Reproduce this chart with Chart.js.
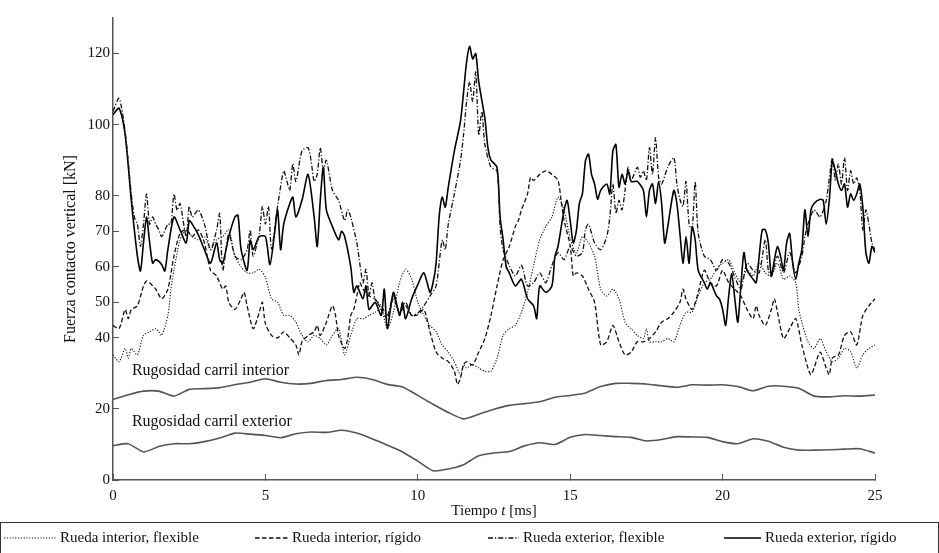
<!DOCTYPE html>
<html><head><meta charset="utf-8">
<script src="https://cdn.jsdelivr.net/npm/chart.js@4/dist/chart.umd.min.js"></script>
<style>html,body{margin:0;padding:0;background:#fff;}#wrap{width:939px;height:553px;}</style>
</head><body><div id="wrap"><canvas id="c" width="939" height="553"></canvas></div>
<script>
const xTicks = [0, 5, 10, 15, 20, 25];
const yTicks = [0, 20, 40, 50, 60, 70, 80, 100, 120];
const seriesLabels = ['Rueda interior, flexible', 'Rueda interior, rígido', 'Rueda exterior, flexible', 'Rueda exterior, rígido'];
const roughLabels = ['Rugosidad carril interior', 'Rugosidad carril exterior'];
const xTitleParts = ['Tiempo ', 't', ' [ms]'];
const yTitle = 'Fuerza contacto vertical [kN]';

// [time ms, force kN]
const interiorFlexible = [[0,35.2],[0.2,33.3],[0.4,37],[0.5,34.3],[0.6,37],[0.8,35.2],[1.0,40.7],[1.2,41.7],[1.4,42.6],[1.5,41.7],[1.6,40.7],[1.8,46.3],[1.9,53.7],[2.0,59],[2.2,67.6],[2.4,70.4],[2.6,68.5],[2.8,67.6],[3.0,68.5],[3.2,64.8],[3.4,67.6],[3.6,68.5],[3.8,70.4],[4.0,63],[4.2,60],[4.4,58.3],[4.6,58.3],[4.8,59.3],[5.0,57],[5.2,51],[5.4,50],[5.6,46.3],[5.8,46.3],[6.0,44.4],[6.2,40.7],[6.4,38.9],[6.6,40.7],[6.8,39.8],[7.0,38],[7.2,40.7],[7.4,42.6],[7.6,35.2],[7.8,40.7],[8.0,45.4],[8.2,45.4],[8.4,46.3],[8.6,47.2],[8.8,48],[9.0,42.6],[9.2,47.2],[9.4,55.5],[9.6,59.3],[9.8,56.5],[10.0,50],[10.2,46.3],[10.4,43.5],[10.6,41.7],[10.8,38],[11.0,36],[11.2,33.3],[11.4,29.6],[11.5,32.4],[11.6,31.5],[11.8,32.4],[12.0,31.5],[12.2,30.6],[12.4,30.6],[12.6,34.3],[12.8,40.7],[13.0,42.6],[13.2,43.5],[13.4,47.2],[13.6,52.8],[13.8,60.4],[14.0,67.6],[14.2,71.3],[14.4,74],[14.6,79.6],[14.8,75.9],[15.0,68],[15.2,63.9],[15.4,68.5],[15.6,66.7],[15.8,63],[16.0,53.7],[16.2,51.8],[16.4,53.7],[16.6,51],[16.8,44.4],[17.0,42.6],[17.2,40.7],[17.4,39.8],[17.5,42.6],[17.6,38.9],[17.8,38.9],[18.0,38.9],[18.2,39.8],[18.4,38.9],[18.6,43.5],[18.8,47.2],[19.0,47.2],[19.2,51.8],[19.4,55.5],[19.6,56.5],[19.8,59.3],[20.0,61],[20.2,62],[20.4,58.3],[20.6,55.5],[20.8,59.3],[21.0,57.4],[21.2,61],[21.4,58.3],[21.6,57.4],[21.8,61],[22.0,56.5],[22.2,57.4],[22.4,55.5],[22.5,48],[22.6,44.4],[22.8,38.9],[23.0,37],[23.2,39.8],[23.4,36.1],[23.6,33.3],[23.8,34.3],[24.0,37],[24.2,36.1],[24.4,31.5],[24.6,35.2],[24.8,37],[25.0,38]];

const interiorRigid = [[0,43.5],[0.2,42.6],[0.4,48],[0.5,45.4],[0.6,48],[0.8,49],[1.0,54.6],[1.1,56],[1.2,55.5],[1.4,53.7],[1.6,51],[1.8,53.7],[2.0,63],[2.2,69.4],[2.4,70.4],[2.6,68.5],[2.8,70.4],[3.0,66.7],[3.2,59],[3.4,57.4],[3.6,53.7],[3.7,54.6],[3.8,50],[4.0,48],[4.2,51],[4.3,52.8],[4.4,49],[4.6,42.6],[4.8,47.2],[4.9,50],[5.0,44],[5.2,40.7],[5.4,40],[5.6,41.7],[5.8,40],[6.0,38],[6.1,35.2],[6.2,38.9],[6.4,40.7],[6.6,41.7],[6.7,43.5],[6.8,40.7],[7.0,44.4],[7.2,49],[7.3,46.3],[7.4,40.7],[7.6,37],[7.7,39.8],[7.8,46.3],[7.9,48],[8.0,51.8],[8.1,55.5],[8.2,53.7],[8.4,51.8],[8.6,50.9],[8.8,48],[9.0,45.4],[9.2,51],[9.4,47.2],[9.6,49],[9.8,46.3],[10.0,46.5],[10.2,48],[10.4,41.7],[10.6,36],[10.8,34.3],[11.0,33.3],[11.2,30.6],[11.3,26.9],[11.4,28.7],[11.5,32.4],[11.6,33.3],[11.8,32.4],[12.0,36],[12.2,39.8],[12.4,46.3],[12.6,54.6],[12.8,62],[13.0,65.7],[13.2,71.3],[13.3,73],[13.4,76],[13.6,80.5],[13.7,85.2],[13.8,84.3],[14.0,86],[14.2,87],[14.4,86],[14.6,84.3],[14.7,78.7],[14.8,73],[15.0,66],[15.1,57.4],[15.2,58.3],[15.4,57.4],[15.6,53.7],[15.8,50],[16.0,38],[16.2,38.9],[16.4,43.5],[16.6,38.9],[16.8,35.2],[17.0,36],[17.2,38.9],[17.4,38.9],[17.6,39.8],[17.8,41.7],[18.0,44.4],[18.2,45.4],[18.4,47.2],[18.6,50],[18.7,53.7],[18.8,50.9],[19.0,48],[19.2,52.8],[19.4,59],[19.6,55.5],[19.8,54.6],[20.0,59],[20.2,55.5],[20.4,53.7],[20.6,51.8],[20.8,48],[21.0,45.4],[21.1,49],[21.2,46.3],[21.4,43.5],[21.6,48],[21.7,51],[21.8,47.2],[22.0,39.8],[22.2,42.6],[22.4,45.4],[22.6,38],[22.8,31.5],[22.9,29.6],[23.0,31.5],[23.2,36],[23.4,31.5],[23.5,29.6],[23.6,34.3],[23.8,35.2],[24.0,40.7],[24.2,41.7],[24.4,38],[24.6,46.3],[24.8,49],[24.9,50],[25.0,51]];

const exteriorFlexible = [[0,103.7],[0.2,107.4],[0.4,98],[0.6,80.5],[0.7,74],[0.8,72],[0.9,65.7],[1.0,72],[1.1,80.5],[1.2,72],[1.3,74],[1.4,72],[1.5,70.4],[1.6,68.5],[1.8,72],[1.9,72],[2.0,80.5],[2.1,75.9],[2.2,77.8],[2.4,68.5],[2.5,77],[2.6,74],[2.8,76],[3.0,72],[3.2,64.8],[3.4,70.4],[3.5,75],[3.6,59],[3.8,69.4],[4.0,63],[4.2,62],[4.4,64.8],[4.5,70.4],[4.6,63],[4.8,69.4],[4.9,77],[5.0,72],[5.1,77],[5.2,65],[5.4,77],[5.6,87],[5.7,84.3],[5.8,81.5],[5.9,89],[6.0,84],[6.2,92.6],[6.4,93.5],[6.5,89.8],[6.6,84],[6.7,86],[6.8,93.5],[6.9,87],[7.0,90],[7.2,81.5],[7.4,78.7],[7.6,73],[7.7,76],[7.8,74],[8.0,66.7],[8.2,55.5],[8.3,59.3],[8.4,51.8],[8.5,55.5],[8.6,50.9],[8.8,49],[9.0,46.3],[9.2,51.8],[9.4,47.2],[9.6,50],[9.8,46.3],[10.0,47],[10.2,49],[10.4,51.8],[10.6,54.6],[10.8,67.6],[10.9,64.8],[11.0,72],[11.2,80.5],[11.4,89.8],[11.5,97],[11.6,106.5],[11.7,112],[11.8,106.5],[11.9,114.8],[12.0,97],[12.1,103.7],[12.2,94.4],[12.4,88],[12.6,87],[12.7,71.3],[12.8,64.8],[13.0,60.4],[13.2,57.4],[13.4,60.4],[13.6,54.6],[13.8,55.5],[14.0,58.3],[14.2,55.5],[14.4,60.4],[14.6,64],[14.8,62],[15.0,65.7],[15.2,63],[15.4,64],[15.5,70.4],[15.6,72],[15.8,66.7],[16.0,64.8],[16.2,68.5],[16.3,74],[16.4,83.3],[16.5,75],[16.6,78.7],[16.7,76],[16.8,81.5],[16.9,88],[17.0,84.3],[17.2,88],[17.3,85.2],[17.4,87],[17.5,84.3],[17.6,93.5],[17.7,86],[17.8,96.3],[17.9,85.2],[18.0,83.3],[18.2,88],[18.4,90.7],[18.5,83.3],[18.6,79],[18.7,77],[18.8,84],[18.9,72],[19.0,70.4],[19.1,84],[19.2,69.4],[19.4,63],[19.6,62],[19.8,59],[20.0,62],[20.2,61],[20.4,57],[20.6,53.7],[20.8,61],[21.0,59],[21.2,58.3],[21.4,67.6],[21.5,59],[21.6,57.4],[21.8,63],[22.0,58.3],[22.2,64],[22.4,58.3],[22.6,63],[22.7,68.5],[22.8,72],[23.0,76],[23.2,74],[23.4,78.7],[23.6,90.7],[23.7,84.3],[23.8,88.9],[23.9,83.3],[24.0,90.7],[24.1,81.5],[24.2,87],[24.3,83.3],[24.4,85],[24.5,81.5],[24.6,70.4],[24.7,76],[24.8,72],[24.9,66.7],[25.0,64.8]];

const exteriorRigid = [[0,102.8],[0.2,104.6],[0.4,97],[0.6,78.7],[0.8,63],[0.9,58.8],[1.0,66.7],[1.1,74],[1.2,67],[1.3,61],[1.4,62],[1.6,60.6],[1.7,58.8],[1.8,64.8],[2.0,74],[2.2,70.4],[2.4,66.7],[2.5,73],[2.6,72],[2.8,69],[3.0,64.8],[3.2,61],[3.4,66.7],[3.5,62],[3.6,61],[3.8,68.5],[4.0,74],[4.1,74.5],[4.2,65],[4.4,59],[4.5,67.5],[4.6,64.8],[4.8,68.5],[5.0,68.5],[5.15,60.6],[5.3,69.4],[5.4,76],[5.5,64.8],[5.6,72],[5.8,77.8],[5.9,79.6],[6.0,74],[6.2,78.7],[6.4,86],[6.6,74],[6.7,65.7],[6.8,78.7],[6.9,88],[7.0,76],[7.2,71.3],[7.4,67.6],[7.5,70],[7.6,68.5],[7.8,60],[7.9,52.8],[8.0,54.6],[8.2,51],[8.3,54.6],[8.4,48],[8.6,50],[8.8,46.3],[8.9,53.7],[9.0,42.6],[9.2,52.8],[9.4,46.3],[9.5,50],[9.6,45.4],[9.8,51],[10.0,55],[10.2,58.3],[10.4,52.8],[10.5,55.5],[10.6,61],[10.7,74],[10.8,79.6],[10.9,76.8],[11.0,82.4],[11.2,92.6],[11.4,101],[11.5,109],[11.6,117.6],[11.7,122],[11.8,118.5],[11.9,120],[12.0,112],[12.2,101.8],[12.3,93.5],[12.4,90],[12.6,88],[12.7,74],[12.8,67.6],[12.9,60],[13.0,58.3],[13.2,54.6],[13.4,56.5],[13.6,51],[13.8,49],[13.9,45.4],[14.0,54.6],[14.2,52.8],[14.4,54.6],[14.5,63],[14.6,65.7],[14.8,76],[14.9,78.7],[15.0,73],[15.1,66.7],[15.2,70],[15.3,77.8],[15.4,80.5],[15.5,89.8],[15.6,91.7],[15.7,86],[15.8,83.3],[15.9,79],[16.0,81.5],[16.2,83.3],[16.3,80.5],[16.4,92.6],[16.5,94.4],[16.6,82.4],[16.7,86],[16.8,83.3],[16.9,87],[17.0,84],[17.2,84],[17.4,81.5],[17.5,74],[17.6,81.5],[17.7,83.3],[17.8,77.8],[17.9,84],[18.0,77.8],[18.1,66.7],[18.2,71.3],[18.4,81.5],[18.5,77.8],[18.6,69.4],[18.7,61],[18.8,68.5],[18.9,61],[19.0,71.3],[19.1,67.6],[19.2,59],[19.4,55.5],[19.5,53.7],[19.6,55.5],[19.8,51.8],[19.9,50.9],[20.0,48],[20.1,43.5],[20.2,51.8],[20.3,58],[20.4,51],[20.5,44.4],[20.6,54.6],[20.7,64],[20.8,59],[21.0,56.5],[21.1,55.5],[21.2,63],[21.3,70.4],[21.4,70.4],[21.5,66.7],[21.6,57.4],[21.7,62],[21.8,65.7],[21.9,63],[22.0,59],[22.1,66.7],[22.2,69.4],[22.3,61],[22.4,56.5],[22.5,61],[22.6,64.8],[22.7,76],[22.8,68.5],[22.9,76],[23.0,77.8],[23.2,79],[23.3,78.7],[23.4,72],[23.5,78.7],[23.6,89.8],[23.7,87],[23.8,83.3],[23.9,81.5],[24.0,83.3],[24.1,76.8],[24.2,80.5],[24.3,78.7],[24.4,80.5],[24.5,83.3],[24.6,76.8],[24.7,64],[24.8,61],[24.9,65.7],[25.0,64]];

const roughTime = [0,0.5,1,1.5,2,2.5,3,3.5,4,4.5,5,5.5,6,6.5,7,7.5,8,8.5,9,9.5,10,10.5,11,11.5,12,12.5,13,13.5,14,14.5,15,15.5,16,16.5,17,17.5,18,18.5,19,19.5,20,20.5,21,21.5,22,22.5,23,23.5,24,24.5,25];
const roughInterior = [22.7,24.0,25.0,25.0,23.6,25.5,25.7,26.0,26.8,27.5,28.5,27.5,27.0,27.2,28.0,28.3,28.9,28.3,26.9,26.2,23.8,21.3,19.0,17.2,18.5,19.9,21.0,21.5,22.0,23.3,23.8,24.5,26.3,27.2,27.2,27.0,26.5,26.1,26.8,26.7,26.8,26.3,25.1,26.4,26.4,25.8,23.6,23.4,23.7,23.6,23.9];
const roughExterior = [9.7,10.2,7.9,9.4,10.2,10.2,10.8,11.8,13.2,12.9,12.5,11.9,13.0,13.5,13.4,14.0,13.2,11.6,9.8,7.9,5.3,2.6,3.1,4.3,6.8,7.6,8.0,9.6,10.5,10.0,12.0,12.8,12.5,12.2,12.0,11.0,11.4,12.2,12.1,12.0,10.8,10.2,11.6,10.9,9.2,8.4,8.4,8.5,8.7,8.8,7.6];

const FONT = 'Liberation Serif, Times New Roman, serif';
const pts = arr => arr.map(([x, y]) => ({x, y}));
const roughPts = vals => vals.map((y, i) => ({x: roughTime[i], y}));

const styles = [
  {borderDash: [1.2, 1.6], borderWidth: 1.1, borderColor: '#111'},
  {borderDash: [4.5, 2.5], borderWidth: 1.3, borderColor: '#111'},
  {borderDash: [5, 2, 1.2, 2], borderWidth: 1.3, borderColor: '#111'},
  {borderDash: [], borderWidth: 1.6, borderColor: '#000'}
];
const mainData = [interiorFlexible, interiorRigid, exteriorFlexible, exteriorRigid];
const datasets = mainData.map((d, i) => Object.assign({
  label: seriesLabels[i], data: pts(d), pointRadius: 0, tension: 0.25, fill: false
}, styles[i]));
datasets.push({label: roughLabels[0], data: roughPts(roughInterior), borderColor: '#555', borderWidth: 1.6, pointRadius: 0, tension: 0.2, fill: false});
datasets.push({label: roughLabels[1], data: roughPts(roughExterior), borderColor: '#555', borderWidth: 1.6, pointRadius: 0, tension: 0.2, fill: false});

const decorPlugin = {
  id: 'decor',
  afterDraw(chart) {
    const ctx = chart.ctx, xs = chart.scales.x, ys = chart.scales.y;
    ctx.save();
    ctx.fillStyle = '#111';
    ctx.textBaseline = 'middle';
    ctx.textAlign = 'left';
    // roughness labels
    ctx.font = '16px ' + FONT;
    ctx.fillText(roughLabels[0], xs.getPixelForValue(0.62), ys.getPixelForValue(30.6));
    ctx.fillText(roughLabels[1], xs.getPixelForValue(0.62), ys.getPixelForValue(16.4));
    // x title with italic t
    const fN = '15px ' + FONT, fI = 'italic 15px ' + FONT;
    const fonts = [fN, fI, fN];
    let total = 0;
    const widths = xTitleParts.map((p, i) => { ctx.font = fonts[i]; const w = ctx.measureText(p).width; total += w; return w; });
    let x = (chart.chartArea.left + chart.chartArea.right) / 2 - total / 2;
    const y = 511;
    xTitleParts.forEach((p, i) => { ctx.font = fonts[i]; ctx.fillText(p, x, y); x += widths[i]; });
    // legend box
    ctx.strokeStyle = '#333';
    ctx.lineWidth = 1;
    ctx.strokeRect(0.5, 522.5, 938, 31);
    const itemX = [4, 255, 488, 724];
    const lineLen = [52, 33, 31, 37];
    const ly = 538;
    ctx.font = '15px ' + FONT;
    for (let i = 0; i < 4; i++) {
      const ds = chart.data.datasets[i];
      ctx.save();
      ctx.strokeStyle = ds.borderColor;
      ctx.lineWidth = ds.borderWidth;
      ctx.setLineDash(ds.borderDash || []);
      ctx.beginPath();
      ctx.moveTo(itemX[i], ly);
      ctx.lineTo(itemX[i] + lineLen[i], ly);
      ctx.stroke();
      ctx.restore();
      ctx.fillText(ds.label, itemX[i] + lineLen[i] + 4, ly);
    }
    ctx.restore();
  }
};

const tickFont = {family: FONT, size: 15};
new Chart(document.getElementById('c'), {
  type: 'line',
  data: {datasets},
  options: {
    responsive: false,
    animation: false,
    events: [],
    layout: {padding: {left: 0, right: 64, top: 13, bottom: 33}},
    scales: {
      x: {
        type: 'linear', min: 0, max: 25,
        afterBuildTicks: s => { s.ticks = xTicks.map(v => ({value: v})); },
        afterFit: s => { s.height = 40; },
        grid: {drawOnChartArea: false, tickLength: -6, color: '#555', lineWidth: 1},
        border: {color: '#555', width: 1.5},
        ticks: {padding: 13, font: tickFont, color: '#111', maxRotation: 0, autoSkip: false}
      },
      y: {
        type: 'linear', min: 0, max: 130,
        afterBuildTicks: s => { s.ticks = yTicks.map(v => ({value: v})); },
        afterFit: s => { s.width = 113; },
        grid: {drawOnChartArea: false, tickLength: -6, color: '#555', lineWidth: 1},
        border: {color: '#555', width: 1.5},
        ticks: {padding: 9, font: tickFont, color: '#111', autoSkip: false},
        title: {display: true, text: yTitle, font: {family: FONT, size: 16}, color: '#111', padding: {top: 61, bottom: 0}}
      }
    },
    plugins: {legend: {display: false}, tooltip: {enabled: false}}
  },
  plugins: [decorPlugin]
});
</script>
</body></html>
